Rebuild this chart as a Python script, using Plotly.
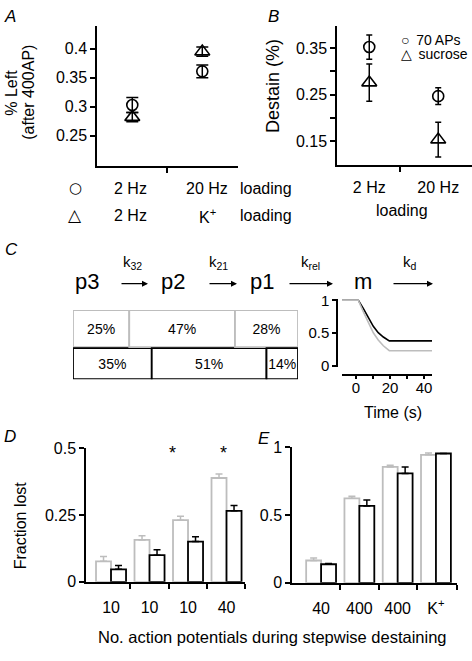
import plotly.graph_objects as go

W, H = 472, 661
def px(x): return x / W
def py(y): return 1 - y / H

FONT = "Liberation Sans, Arial, Helvetica, DejaVu Sans, sans-serif"
SYMFONT = "DejaVu Sans, sans-serif"
GRAY = "#bdbdbd"
BLACK = "#000000"

# ---------------- data ----------------
# Panel A
a_x = [1, 2]
a_circle = [0.303, 0.361]
a_circle_err = [0.013, 0.011]
a_tri = [0.282, 0.395]
a_tri_err = [0.008, 0.008]
a_row_circle = ["2 Hz", "20 Hz", "loading"]
a_row_tri = ["2 Hz", "K<sup>+</sup>", "loading"]
a_yticks = [0.25, 0.3, 0.35, 0.4]

# Panel B
b_x = [1, 2]
b_labels = ["2 Hz", "20 Hz"]
b_circle = [0.352, 0.247]
b_circle_err = [0.026, 0.018]
b_tri = [0.276, 0.154]
b_tri_err = [0.040, 0.037]
b_yticks = [0.15, 0.25, 0.35]
b_yminor = [0.2, 0.3]
b_legend = ["70 APs", "sucrose"]

# Panel C
c_states = ["p3", "p2", "p1", "m"]
c_rates = ["k<sub>32</sub>", "k<sub>21</sub>", "k<sub>rel</sub>", "k<sub>d</sub>"]
c_gray_pct = [25, 47, 28]
c_black_pct = [35, 51, 14]
c_t_black = [-8.2, 1.4, 4.3, 7.3, 10.2, 13.1, 16.1, 19.6, 44.7]
c_black = [1.0, 1.0, 0.876, 0.727, 0.601, 0.503, 0.437, 0.378, 0.378]
c_t_gray = [-8.2, 1.4, 4.3, 7.3, 10.2, 13.1, 16.1, 19.6, 44.7]
c_gray = [1.0, 1.0, 0.825, 0.652, 0.503, 0.393, 0.303, 0.228, 0.228]
c_xticks = [0, 20, 40]
c_xminor = [10, 30]
c_yticks = [0, 0.5, 1]

# Panel D
d_labels = ["10", "10", "10", "40"]
d_gray = [0.077, 0.157, 0.231, 0.389]
d_gray_err = [0.018, 0.016, 0.015, 0.015]
d_black = [0.047, 0.100, 0.151, 0.266]
d_black_err = [0.014, 0.020, 0.018, 0.020]
d_star_x = [1.6, 2.91]
d_star_y = [0.482, 0.482]
d_yticks = [0, 0.25, 0.5]

# Panel E
e_labels = ["40", "400", "400", "K<sup>+</sup>"]
e_gray = [0.165, 0.624, 0.856, 0.945]
e_gray_err = [0.018, 0.016, 0.012, 0.014]
e_black = [0.137, 0.568, 0.808, 0.955]
e_black_err = [0.006, 0.043, 0.048, 0.0]
e_yticks = [0, 0.5, 1]

# ---------------- figure ----------------
fig = go.Figure()

def pts(x, y, err, symbol, size, xa, ya, capw):
    return go.Scatter(
        x=x, y=y, mode="markers", xaxis=xa, yaxis=ya, showlegend=False,
        hoverinfo="skip", cliponaxis=False,
        marker=dict(symbol=symbol, size=size, color=BLACK, line=dict(width=1.6, color=BLACK)),
        error_y=dict(type="data", array=err, color=BLACK, thickness=1.5, width=capw),
    )

fig.add_trace(pts(a_x, a_circle, a_circle_err, "circle-open", 11, "x", "y", 6))
fig.add_trace(pts(a_x, a_tri, a_tri_err, "triangle-up-open", 13, "x", "y", 6))
fig.add_trace(pts(b_x, b_circle, b_circle_err, "circle-open", 11, "x2", "y2", 3))
fig.add_trace(pts(b_x, b_tri, b_tri_err, "triangle-up-open", 13, "x2", "y2", 3))

# Panel C: pool boxes as stacked horizontal bars
c_rows = [1, 0]
c_row_colors = [GRAY, BLACK]
c_row_widths = [1.056, 0.889]
for i in range(len(c_gray_pct)):
    seg = [c_gray_pct[i], c_black_pct[i]]
    base = [sum(c_gray_pct[:i]), sum(c_black_pct[:i])]
    fig.add_trace(go.Bar(
        x=seg, y=c_rows, base=base, orientation="h", width=c_row_widths,
        offsetgroup="c", xaxis="x3", yaxis="y3", showlegend=False, hoverinfo="skip",
        marker=dict(color="white", line=dict(color=c_row_colors, width=1.8)),
        text=[f"{v}%" for v in seg], textposition="inside", insidetextanchor="middle",
        textangle=0, constraintext="none",
        textfont=dict(family=FONT, size=14, color=BLACK),
    ))

# Panel C inset curves
fig.add_trace(go.Scatter(x=c_t_black, y=c_black, mode="lines", xaxis="x4", yaxis="y4",
                         line=dict(color=BLACK, width=1.6), showlegend=False, hoverinfo="skip"))
fig.add_trace(go.Scatter(x=c_t_gray, y=c_gray, mode="lines", xaxis="x4", yaxis="y4",
                         line=dict(color=GRAY, width=1.6), showlegend=False, hoverinfo="skip"))

def bars(y, err, color, xa, ya, grp):
    return go.Bar(
        x=list(range(len(y))), y=y, xaxis=xa, yaxis=ya, offsetgroup=grp,
        showlegend=False, hoverinfo="skip",
        marker=dict(color="white", line=dict(color=color, width=1.8)),
        error_y=dict(type="data", array=err, arrayminus=[0] * len(err), symmetric=False,
                     color=color, thickness=1.5, width=3.5),
    )

fig.add_trace(bars(d_gray, d_gray_err, GRAY, "x5", "y5", "dg"))
fig.add_trace(bars(d_black, d_black_err, BLACK, "x5", "y5", "db"))
fig.add_trace(bars(e_gray, e_gray_err, GRAY, "x6", "y6", "eg"))
fig.add_trace(bars(e_black, e_black_err, BLACK, "x6", "y6", "eb"))

def minor(vals, ticks="outside", ticklen=5):
    return dict(tickvals=vals, ticks=ticks, ticklen=ticklen, tickwidth=1.5, tickcolor=BLACK)

def ax(**kw):
    d = dict(showline=True, linecolor=BLACK, linewidth=1.5, showgrid=False, zeroline=False,
             ticks="outside", ticklen=5, tickwidth=1.5, tickcolor=BLACK,
             tickfont=dict(family=FONT, size=16, color=BLACK), fixedrange=True)
    d.update(kw)
    return d

fig.update_layout(
    width=W, height=H, autosize=False,
    margin=dict(l=0, r=0, t=0, b=0),
    paper_bgcolor="white", plot_bgcolor="white",
    barmode="group", bargap=0.22, bargroupgap=0,
    uniformtext=dict(minsize=14, mode="show"),
    font=dict(family=FONT, size=16, color=BLACK),
    # A
    xaxis=ax(domain=[px(97), px(238)], range=[0.496, 2.51], anchor="y",
             tickvals=[1.5], showticklabels=False),
    yaxis=ax(domain=[py(162), py(18)], range=[0.198, 0.44], anchor="x",
             tickvals=a_yticks, ticktext=[str(v) for v in a_yticks]),
    # B
    xaxis2=ax(domain=[px(337), 1], range=[0.532, 2.49], anchor="y2",
              tickvals=b_x, ticktext=b_labels, ticks="",
              minor=minor([1.45]), ticklabelstandoff=7),
    yaxis2=ax(domain=[py(161), py(18)], range=[0.1, 0.398], anchor="x2",
              tickvals=b_yticks, ticktext=[str(v) for v in b_yticks], minor=minor(b_yminor)),
    # C boxes
    xaxis3=dict(domain=[px(73), px(298)], range=[0, 100], visible=False, anchor="y3", fixedrange=True),
    yaxis3=dict(domain=[py(381), py(310)], range=[-0.444, 1.528], visible=False, anchor="x3", fixedrange=True),
    # C inset
    xaxis4=ax(domain=[px(342), px(432)], range=[-8.2, 44.7], anchor="free", position=py(377),
              tickvals=c_xticks, ticktext=[str(v) for v in c_xticks], ticklen=3, ticklabelstandoff=-4,
              minor=minor(c_xminor, ticklen=3),
              tickfont=dict(family=FONT, size=15, color=BLACK)),
    yaxis4=ax(domain=[py(368), py(299)], range=[-0.015, 1.015], anchor="free", position=px(337),
              tickvals=c_yticks, ticktext=[str(v) for v in c_yticks], ticklen=4,
              tickfont=dict(family=FONT, size=15, color=BLACK)),
    # D
    xaxis5=ax(domain=[px(86), px(245)], range=[-0.65, 3.48], anchor="y5",
              tickvals=list(range(len(d_labels))), ticktext=d_labels, ticks="",
              minor=minor([0.5, 1.5, 2.5, 3.48]), ticklabelstandoff=10),
    yaxis5=ax(domain=[py(589), py(452)], range=[0, 0.5], anchor="x5",
              tickvals=d_yticks, ticktext=[str(v) for v in d_yticks]),
    # E
    xaxis6=ax(domain=[px(292), px(457)], range=[-0.76, 3.55], anchor="y6",
              tickvals=list(range(len(e_labels))), ticktext=e_labels, ticks="",
              minor=minor([0.5, 1.5, 2.5, 3.55]), ticklabelstandoff=10),
    yaxis6=ax(domain=[py(590), py(451)], range=[0, 1], anchor="x6",
              tickvals=e_yticks, ticktext=[str(v) for v in e_yticks]),
)

ann = []
def text(x, y, s, size=16, xanchor="center", yanchor="middle", family=FONT, angle=0, italic=False):
    f = dict(family=family, size=size, color=BLACK)
    if italic:
        f["style"] = "italic"
    ann.append(dict(x=px(x), y=py(y), xref="paper", yref="paper", text=s, showarrow=False,
                    xanchor=xanchor, yanchor=yanchor, font=f, textangle=angle))

# panel letters
text(2, 9, "A", 17, xanchor="left", italic=True)
text(266, 9, "B", 17, xanchor="left", italic=True)
text(3, 248, "C", 17, xanchor="left", italic=True)
text(2, 440, "D", 17, xanchor="left", italic=True)
text(256, 442, "E", 17, xanchor="left", italic=True)

# A axis labels and table
text(12, 87, "% Left", 16, angle=-90)
text(29, 87, "(after 400AP)", 16, angle=-90)
a_cols = [130, 207, 266]
text(75, 185, "○", 15, family=SYMFONT)
text(75, 212, "△", 17, family=SYMFONT)
for cx, s in zip(a_cols, a_row_circle):
    text(cx, 185, s, 16)
for cx, s in zip(a_cols, a_row_tri):
    text(cx, 213, s, 16)

# B labels and key
text(273, 80, "Destain (%)", 18, angle=-90)
text(402, 208, "loading", 16)
text(399, 33, "○\u2009 " + b_legend[0], 14, xanchor="left")
text(399, 47, "△\u2009 " + b_legend[1], 14, xanchor="left")

# C scheme
state_x = [87, 173, 262, 363]
for sx, s in zip(state_x, c_states):
    text(sx, 281, s, 22)
rate_x = [132, 218, 310, 410]
for rx, s in zip(rate_x, c_rates):
    text(rx, 261, s, 15)
arrows = [(120, 148), (208, 237), (288, 333), (392, 433)]
for x0, x1 in arrows:
    ann.append(dict(x=px(x1), y=py(283), xref="paper", yref="paper", ax=-(x1 - x0), ay=0,
                    axref="pixel", ayref="pixel", text="", showarrow=True,
                    arrowhead=2, arrowsize=1, arrowwidth=1.2, arrowcolor=BLACK))
text(393, 415, "Time (s)", 16)

# D / E labels
text(20, 531, "Fraction lost", 16, angle=-90)
for sx, sy in zip(d_star_x, d_star_y):
    ann.append(dict(x=sx, y=sy, xref="x5", yref="y5", text="*", showarrow=False,
                    xanchor="center", yanchor="middle", font=dict(family=FONT, size=18, color=BLACK)))
text(272, 646, "No. action potentials during stepwise destaining", 16.5)

fig.update_layout(annotations=ann)
fig.write_html("out.html", config={"displayModeBar": False},
               post_script="document.body.style.margin='0';document.body.style.overflow='hidden';")
